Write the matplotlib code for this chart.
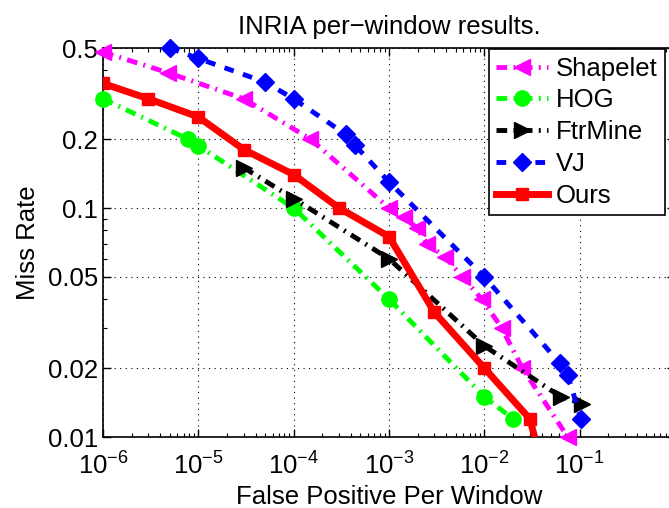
import matplotlib
matplotlib.use("Agg")
import matplotlib.pyplot as plt
from matplotlib.ticker import FixedLocator, NullFormatter

plt.rcParams['font.family'] = ['Liberation Sans', 'DejaVu Sans']
plt.rcParams['mathtext.default'] = 'regular'

# data
shapelet_x = [1e-6, 4.8e-6, 3e-5, 1.5e-4, 1e-3, 1.45e-3, 1.95e-3, 2.5e-3,
              3.9e-3, 5.9e-3, 9.4e-3, 1.52e-2, 2.5e-2, 7.5e-2]
shapelet_y = [0.48, 0.39, 0.30, 0.20, 0.10, 0.091, 0.082, 0.070,
              0.061, 0.050, 0.040, 0.030, 0.020, 0.010]

hog_x = [1e-6, 7.8e-6, 1e-5, 1e-4, 1e-3, 1e-2, 2e-2]
hog_y = [0.30, 0.20, 0.187, 0.10, 0.040, 0.015, 0.012]

ftr_x = [3e-5, 1e-4, 1e-3, 1e-2, 6.3e-2, 1.07e-1]
ftr_y = [0.15, 0.11, 0.060, 0.025, 0.015, 0.014]

vj_x = [5e-6, 1e-5, 5e-5, 1e-4, 3.5e-4, 4.4e-4, 1e-3, 1e-2, 6.2e-2, 7.5e-2, 1.03e-1]
vj_y = [0.50, 0.45, 0.355, 0.30, 0.21, 0.188, 0.13, 0.050, 0.021, 0.0187, 0.012]

ours_x = [1e-6, 3e-6, 1e-5, 3e-5, 1e-4, 3e-4, 1e-3, 3e-3, 1e-2, 3e-2, 3.6e-2]
ours_y = [0.35, 0.30, 0.25, 0.18, 0.14, 0.10, 0.075, 0.035, 0.020, 0.012, 0.009]

yticks = [0.01, 0.02, 0.05, 0.1, 0.2, 0.5]
ytick_labels = ['0.01', '0.02', '0.05', '0.1', '0.2', '0.5']
# the 10^0 tick sits past the cropped right edge, so it gets no label
xticks = [1e-6, 1e-5, 1e-4, 1e-3, 1e-2, 1e-1, 1]
xtick_labels = [r'$10^{-6}$', r'$10^{-5}$', r'$10^{-4}$', r'$10^{-3}$',
                r'$10^{-2}$', r'$10^{-1}$', '']

fig = plt.figure(figsize=(6.69, 5.08), dpi=100)
ax = fig.add_axes([103 / 669, 1 - 437 / 508, 572 / 669, 389 / 508])

dashdot = (2.2, 1.3, 0.4, 1.3)
ax.plot(shapelet_x, shapelet_y, color='#ff00ff', lw=3.5, dashes=dashdot,
        marker='<', ms=12, label='Shapelet', clip_on=False, zorder=3)
ax.plot(hog_x, hog_y, color='#00ff00', lw=3.5, dashes=dashdot,
        marker='o', ms=11, label='HOG', clip_on=False, zorder=3)
ax.plot(ftr_x, ftr_y, color='black', lw=3.5, dashes=dashdot,
        marker='>', ms=12, label='FtrMine', clip_on=False, zorder=3)
ax.plot(vj_x, vj_y, color='#0000ff', lw=3.5, dashes=(2, 2),
        marker='D', ms=9, label='VJ', clip_on=False, zorder=3)
ax.plot(ours_x, ours_y, color='#ff0000', lw=5, ls='-',
        marker='s', ms=9, label='Ours', zorder=4)

ax.set_xscale('log')
ax.set_yscale('log')
ax.set_xlim(1e-6, 1)
ax.set_ylim(0.01, 0.5)
ax.set_xticks(xticks)
ax.set_xticklabels(xtick_labels)
ax.yaxis.set_major_locator(FixedLocator(yticks))
ax.set_yticklabels(ytick_labels)
ax.yaxis.set_minor_locator(FixedLocator([0.03, 0.04, 0.06, 0.07, 0.08, 0.09, 0.3, 0.4]))
ax.yaxis.set_minor_formatter(NullFormatter())
ax.tick_params(which='both', direction='in', top=True, right=True, labelsize=18.5)
ax.tick_params(which='major', length=6, width=1)
ax.tick_params(which='minor', length=3, width=0.8)
ax.tick_params(axis='x', pad=11)
ax.grid(True, which='major', ls=(0, (1, 4)), color='black', lw=0.8)
for s in ax.spines.values():
    s.set_linewidth(1.2)

ax.set_title('INRIA per\u2212window results.', fontsize=18.5, pad=10)
ax.set_xlabel('False Positive Per Window', fontsize=18.5, labelpad=4)
ax.set_ylabel('Miss Rate', fontsize=18.5, labelpad=6)

leg = ax.legend(loc='upper right', bbox_to_anchor=(665 / 669, 1 - 49 / 508),
                bbox_transform=fig.transFigure, fontsize=18.5, fancybox=False,
                framealpha=1, edgecolor='black', borderaxespad=0, borderpad=0.3,
                labelspacing=0.3, handlelength=2.0, handletextpad=0.3, numpoints=1)
leg.get_frame().set_linewidth(1.2)

fig.savefig('out.png', dpi=100)
